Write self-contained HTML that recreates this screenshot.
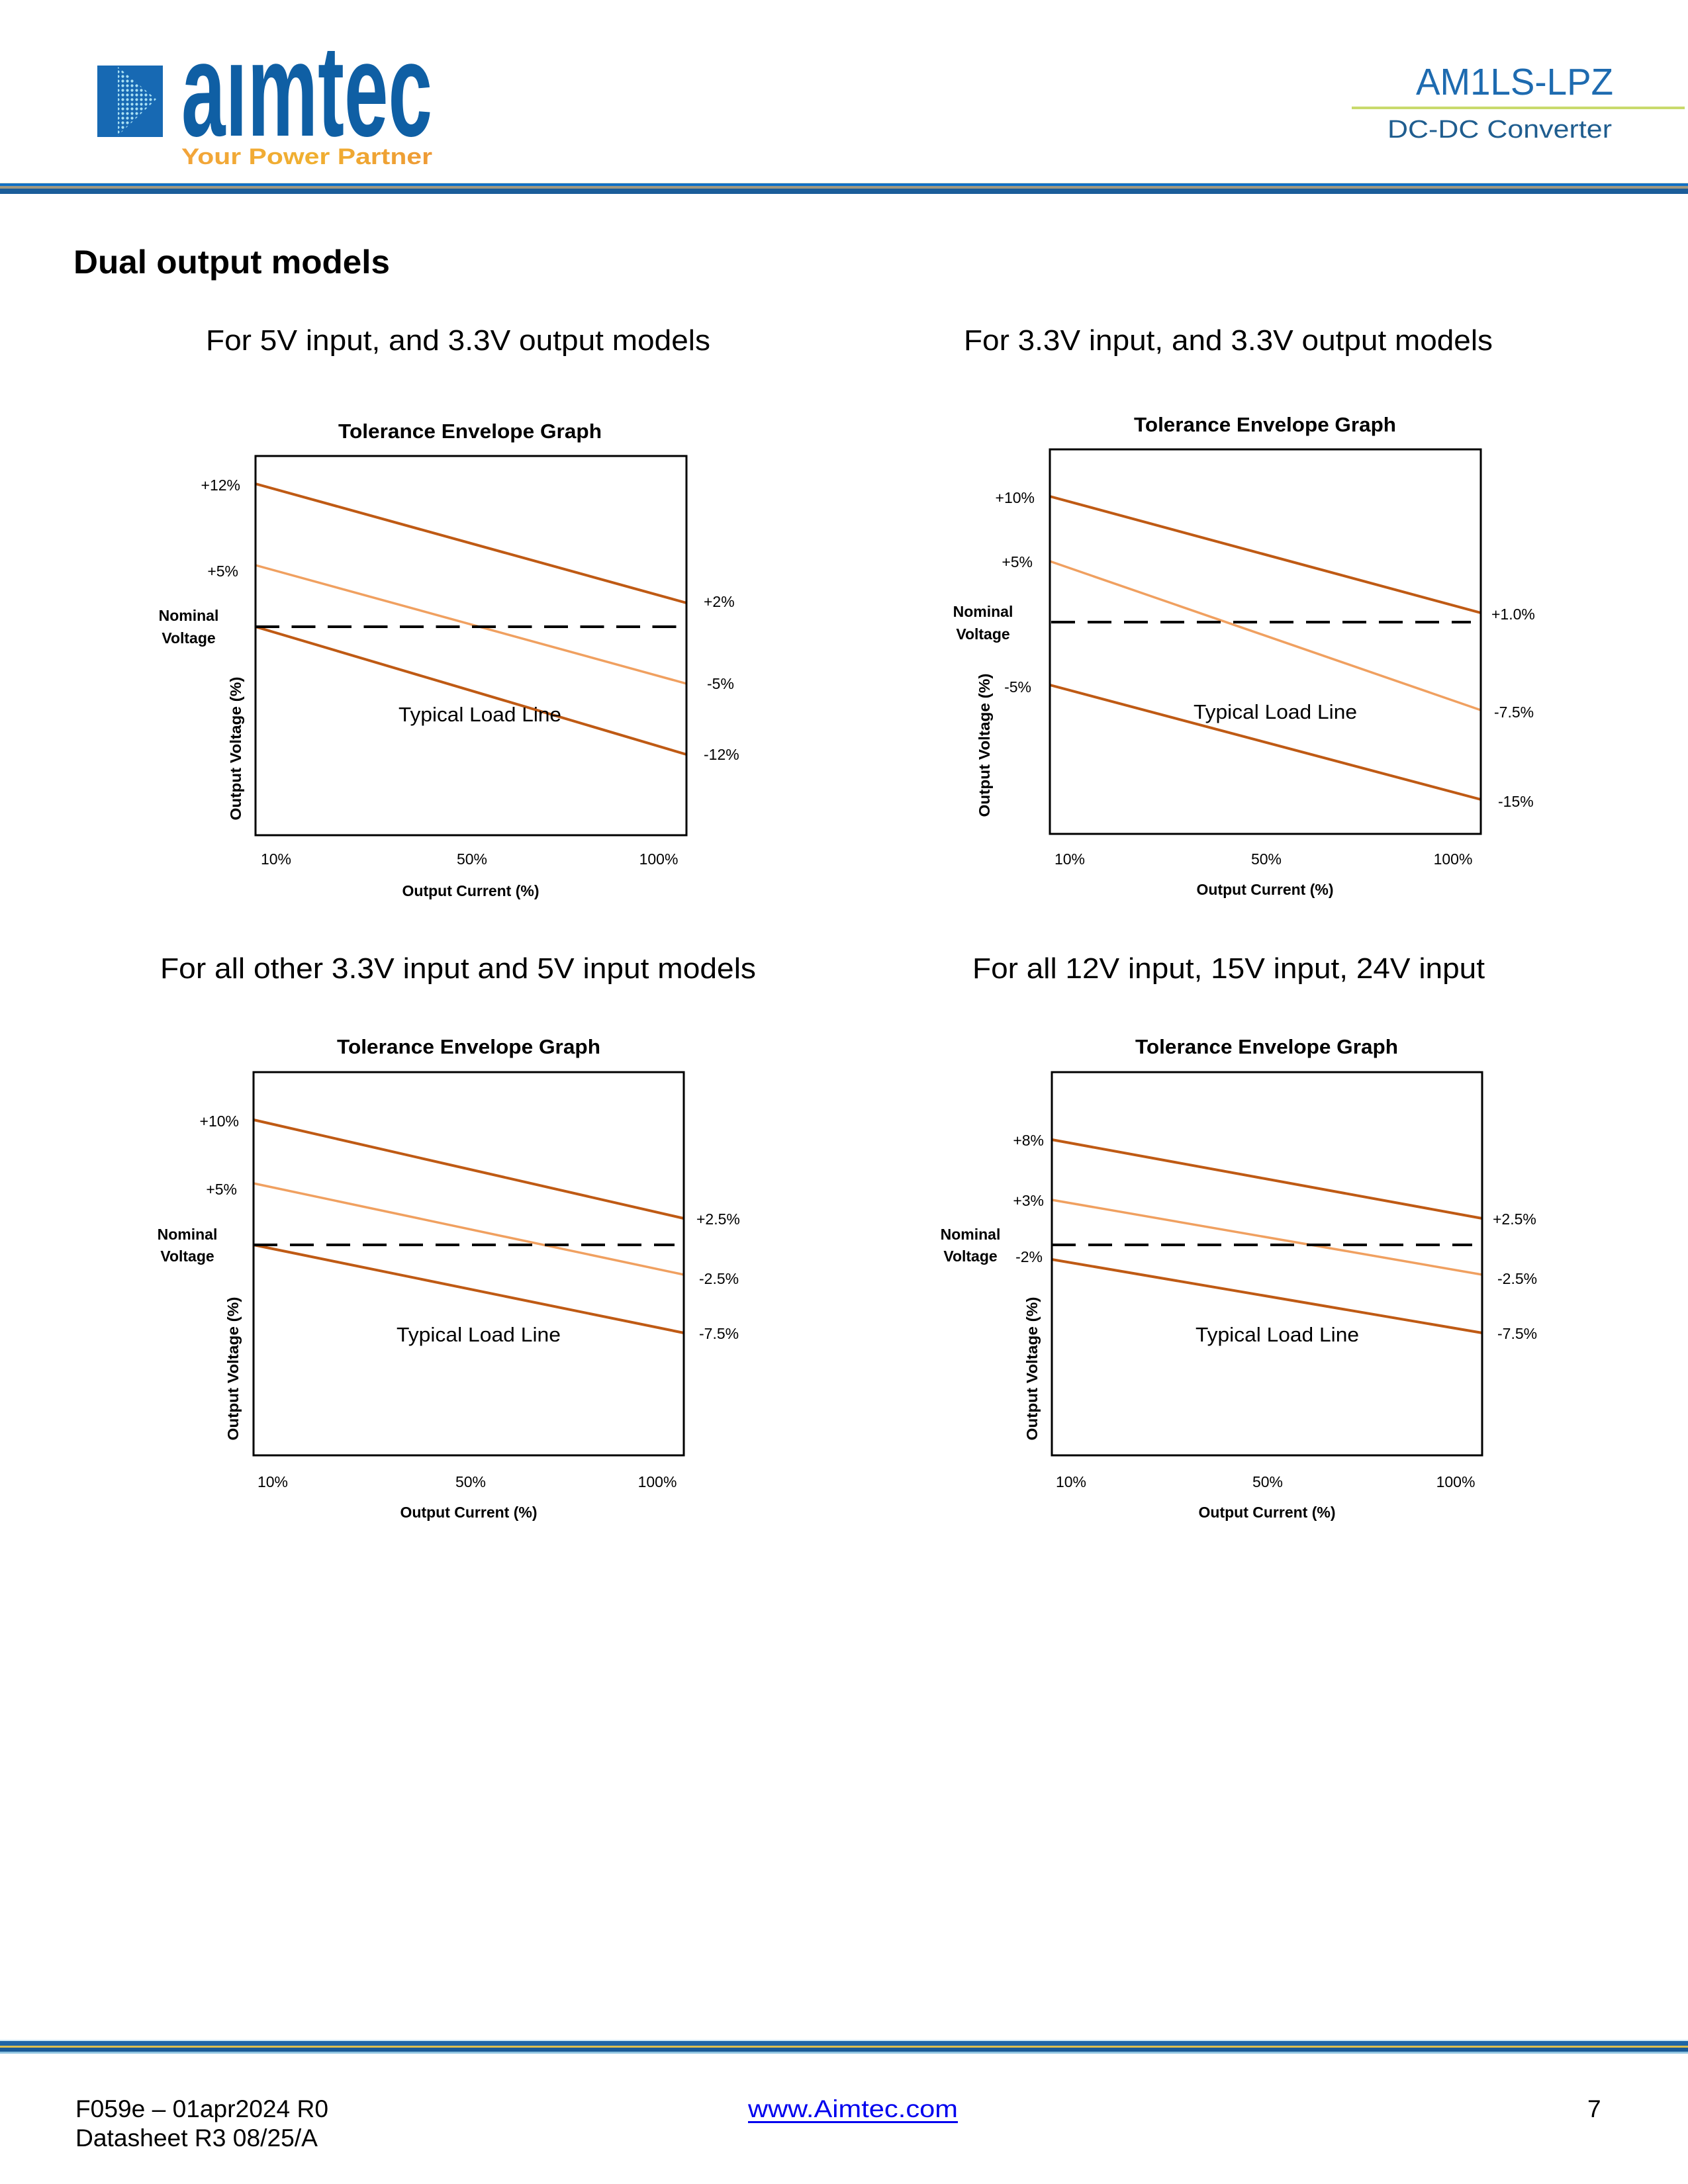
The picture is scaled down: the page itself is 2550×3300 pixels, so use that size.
<!DOCTYPE html>
<html>
<head>
<meta charset="utf-8">
<style>
  html, body { margin:0; padding:0; background:#ffffff; }
  body { width:2550px; height:3300px; overflow:hidden; }
  svg { display:block; }
  text { font-family: "Liberation Sans", "DejaVu Sans", sans-serif; }
</style>
</head>
<body>
<svg width="2550" height="3300" viewBox="0 0 2550 3300" xmlns="http://www.w3.org/2000/svg">
  <defs>
    <pattern id="dots" x="0" y="0" width="7" height="7" patternUnits="userSpaceOnUse">
      <circle cx="3.5" cy="3.5" r="2.1" fill="#a8e0f4"/>
    </pattern>
    <linearGradient id="orangeGrad" x1="0" y1="0" x2="1" y2="0">
      <stop offset="0" stop-color="#f2a43a"/>
      <stop offset="0.5" stop-color="#f0b030"/>
      <stop offset="1" stop-color="#ee9a36"/>
    </linearGradient>
    <clipPath id="logoClip">
      <rect x="260" y="77" width="420" height="140"/>
    </clipPath>
  </defs>

  <rect x="0" y="0" width="2550" height="3300" fill="#ffffff"/>

  <!-- ===== Header ===== -->
  <rect x="147" y="99" width="99" height="108" fill="#1769b3"/>
  <polygon points="178,101 236,150 178,205" fill="url(#dots)"/>
  <g clip-path="url(#logoClip)">
    <text x="274" y="205" font-size="202" font-weight="bold" fill="#0f5fa4" textLength="379" lengthAdjust="spacingAndGlyphs">aimtec</text>
  </g>
  <rect x="338" y="70" width="38" height="28" fill="#ffffff"/>
  <text x="274" y="248" font-size="34" font-weight="bold" fill="url(#orangeGrad)" textLength="379" lengthAdjust="spacingAndGlyphs">Your Power Partner</text>

  <text x="2139" y="143" font-size="57" fill="#1e6bb0" textLength="298" lengthAdjust="spacingAndGlyphs">AM1LS-LPZ</text>
  <rect x="2042" y="161" width="503" height="4" fill="#c9da6c"/>
  <text x="2096" y="208" font-size="38" fill="#1f5d8f" textLength="339" lengthAdjust="spacingAndGlyphs">DC-DC Converter</text>

  <!-- header stripes -->
  <rect x="0" y="276" width="2550" height="1" fill="#f3ead8"/>
  <rect x="0" y="277" width="2550" height="4" fill="#1170c4"/>
  <rect x="0" y="281" width="2550" height="4" fill="#a09880"/>
  <rect x="0" y="285" width="2550" height="8" fill="#1b5d9a"/>

  <!-- Section heading -->
  <text x="111" y="413" font-size="50" font-weight="bold" fill="#000" textLength="478" lengthAdjust="spacingAndGlyphs">Dual output models</text>

  <!-- Subtitles -->
  <text x="311" y="529" font-size="44" fill="#000" textLength="762" lengthAdjust="spacingAndGlyphs">For 5V input, and 3.3V output models</text>
  <text x="1456" y="529" font-size="44" fill="#000" textLength="799" lengthAdjust="spacingAndGlyphs">For 3.3V input, and 3.3V output models</text>
  <text x="242" y="1478" font-size="44" fill="#000" textLength="900" lengthAdjust="spacingAndGlyphs">For all other 3.3V input and 5V input models</text>
  <text x="1469" y="1478" font-size="44" fill="#000" textLength="774" lengthAdjust="spacingAndGlyphs">For all 12V input, 15V input, 24V input</text>

  <!-- ===== Chart 1 ===== -->
  <g>
    <text x="511" y="662" font-size="31" font-weight="bold" fill="#000" textLength="398" lengthAdjust="spacingAndGlyphs">Tolerance Envelope Graph</text>
    <line x1="386" y1="731" x2="1037" y2="911" stroke="#bf5a14" stroke-width="4"/>
    <line x1="386" y1="854" x2="1037" y2="1033" stroke="#f0a060" stroke-width="3.5"/>
    <line x1="386" y1="947" x2="1037" y2="1140" stroke="#bf5a14" stroke-width="4"/>
    <line x1="386" y1="947" x2="1022" y2="947" stroke="#000" stroke-width="4" stroke-dasharray="36 18.5"/>
    <rect x="386" y="689" width="651" height="573" fill="none" stroke="#000" stroke-width="3"/>
    <text x="363" y="741" font-size="23" text-anchor="end">+12%</text>
    <text x="360" y="871" font-size="23" text-anchor="end">+5%</text>
    <text x="1063" y="917" font-size="23">+2%</text>
    <text x="1068" y="1041" font-size="23">-5%</text>
    <text x="1063" y="1148" font-size="23">-12%</text>
    <text x="285" y="938" font-size="23" font-weight="bold" text-anchor="middle">Nominal</text>
    <text x="285" y="972" font-size="23" font-weight="bold" text-anchor="middle">Voltage</text>
    <text x="602" y="1090" font-size="31" textLength="246" lengthAdjust="spacingAndGlyphs">Typical Load Line</text>
    <text transform="translate(364,1131) rotate(-90)" font-size="23" font-weight="bold" text-anchor="middle" textLength="217" lengthAdjust="spacingAndGlyphs">Output Voltage (%)</text>
    <text x="417" y="1306" font-size="23" text-anchor="middle">10%</text>
    <text x="713" y="1306" font-size="23" text-anchor="middle">50%</text>
    <text x="995" y="1306" font-size="23" text-anchor="middle">100%</text>
    <text x="711" y="1354" font-size="23" font-weight="bold" text-anchor="middle">Output Current (%)</text>
  </g>

  <!-- ===== Chart 2 ===== -->
  <g>
    <text x="1713" y="652" font-size="31" font-weight="bold" fill="#000" textLength="396" lengthAdjust="spacingAndGlyphs">Tolerance Envelope Graph</text>
    <line x1="1586" y1="750" x2="2237" y2="926" stroke="#bf5a14" stroke-width="4"/>
    <line x1="1586" y1="848" x2="2237" y2="1073" stroke="#f0a060" stroke-width="3.5"/>
    <line x1="1586" y1="1035" x2="2237" y2="1208" stroke="#bf5a14" stroke-width="4"/>
    <line x1="1588" y1="940" x2="2222" y2="940" stroke="#000" stroke-width="4" stroke-dasharray="36 19"/>
    <rect x="1586" y="679" width="651" height="581" fill="none" stroke="#000" stroke-width="3"/>
    <text x="1563" y="760" font-size="23" text-anchor="end">+10%</text>
    <text x="1560" y="857" font-size="23" text-anchor="end">+5%</text>
    <text x="1558" y="1046" font-size="23" text-anchor="end">-5%</text>
    <text x="2253" y="936" font-size="23">+1.0%</text>
    <text x="2257" y="1084" font-size="23">-7.5%</text>
    <text x="2263" y="1219" font-size="23">-15%</text>
    <text x="1485" y="932" font-size="23" font-weight="bold" text-anchor="middle">Nominal</text>
    <text x="1485" y="966" font-size="23" font-weight="bold" text-anchor="middle">Voltage</text>
    <text x="1803" y="1086" font-size="31" textLength="247" lengthAdjust="spacingAndGlyphs">Typical Load Line</text>
    <text transform="translate(1495,1126) rotate(-90)" font-size="23" font-weight="bold" text-anchor="middle" textLength="217" lengthAdjust="spacingAndGlyphs">Output Voltage (%)</text>
    <text x="1616" y="1306" font-size="23" text-anchor="middle">10%</text>
    <text x="1913" y="1306" font-size="23" text-anchor="middle">50%</text>
    <text x="2195" y="1306" font-size="23" text-anchor="middle">100%</text>
    <text x="1911" y="1352" font-size="23" font-weight="bold" text-anchor="middle">Output Current (%)</text>
  </g>

  <!-- ===== Chart 3 ===== -->
  <g>
    <text x="509" y="1592" font-size="31" font-weight="bold" fill="#000" textLength="398" lengthAdjust="spacingAndGlyphs">Tolerance Envelope Graph</text>
    <line x1="383" y1="1692" x2="1033" y2="1841" stroke="#bf5a14" stroke-width="4"/>
    <line x1="383" y1="1788" x2="1033" y2="1926" stroke="#f0a060" stroke-width="3.5"/>
    <line x1="383" y1="1881" x2="1033" y2="2014" stroke="#bf5a14" stroke-width="4"/>
    <line x1="383" y1="1881" x2="1019" y2="1881" stroke="#000" stroke-width="4" stroke-dasharray="36 19"/>
    <rect x="383" y="1620" width="650" height="579" fill="none" stroke="#000" stroke-width="3"/>
    <text x="361" y="1702" font-size="23" text-anchor="end">+10%</text>
    <text x="358" y="1805" font-size="23" text-anchor="end">+5%</text>
    <text x="1052" y="1850" font-size="23">+2.5%</text>
    <text x="1056" y="1940" font-size="23">-2.5%</text>
    <text x="1056" y="2023" font-size="23">-7.5%</text>
    <text x="283" y="1873" font-size="23" font-weight="bold" text-anchor="middle">Nominal</text>
    <text x="283" y="1906" font-size="23" font-weight="bold" text-anchor="middle">Voltage</text>
    <text x="599" y="2027" font-size="31" textLength="248" lengthAdjust="spacingAndGlyphs">Typical Load Line</text>
    <text transform="translate(360,2068) rotate(-90)" font-size="23" font-weight="bold" text-anchor="middle" textLength="217" lengthAdjust="spacingAndGlyphs">Output Voltage (%)</text>
    <text x="412" y="2247" font-size="23" text-anchor="middle">10%</text>
    <text x="711" y="2247" font-size="23" text-anchor="middle">50%</text>
    <text x="993" y="2247" font-size="23" text-anchor="middle">100%</text>
    <text x="708" y="2293" font-size="23" font-weight="bold" text-anchor="middle">Output Current (%)</text>
  </g>

  <!-- ===== Chart 4 ===== -->
  <g>
    <text x="1715" y="1592" font-size="31" font-weight="bold" fill="#000" textLength="397" lengthAdjust="spacingAndGlyphs">Tolerance Envelope Graph</text>
    <line x1="1589" y1="1722" x2="2239" y2="1841" stroke="#bf5a14" stroke-width="4"/>
    <line x1="1589" y1="1813" x2="2239" y2="1926" stroke="#f0a060" stroke-width="3.5"/>
    <line x1="1589" y1="1903" x2="2239" y2="2014" stroke="#bf5a14" stroke-width="4"/>
    <line x1="1589" y1="1881" x2="2224" y2="1881" stroke="#000" stroke-width="4" stroke-dasharray="36 19"/>
    <rect x="1589" y="1620" width="650" height="579" fill="none" stroke="#000" stroke-width="3"/>
    <text x="1577" y="1731" font-size="23" text-anchor="end">+8%</text>
    <text x="1577" y="1822" font-size="23" text-anchor="end">+3%</text>
    <text x="1575" y="1907" font-size="23" text-anchor="end">-2%</text>
    <text x="2255" y="1850" font-size="23">+2.5%</text>
    <text x="2262" y="1940" font-size="23">-2.5%</text>
    <text x="2262" y="2023" font-size="23">-7.5%</text>
    <text x="1466" y="1873" font-size="23" font-weight="bold" text-anchor="middle">Nominal</text>
    <text x="1466" y="1906" font-size="23" font-weight="bold" text-anchor="middle">Voltage</text>
    <text x="1806" y="2027" font-size="31" textLength="247" lengthAdjust="spacingAndGlyphs">Typical Load Line</text>
    <text transform="translate(1567,2068) rotate(-90)" font-size="23" font-weight="bold" text-anchor="middle" textLength="217" lengthAdjust="spacingAndGlyphs">Output Voltage (%)</text>
    <text x="1618" y="2247" font-size="23" text-anchor="middle">10%</text>
    <text x="1915" y="2247" font-size="23" text-anchor="middle">50%</text>
    <text x="2199" y="2247" font-size="23" text-anchor="middle">100%</text>
    <text x="1914" y="2293" font-size="23" font-weight="bold" text-anchor="middle">Output Current (%)</text>
  </g>

  <!-- ===== Footer ===== -->
  <rect x="0" y="3082" width="2550" height="2" fill="#cfeaf6"/>
  <rect x="0" y="3084" width="2550" height="7" fill="#1e66a6"/>
  <rect x="0" y="3091" width="2550" height="3" fill="#dcc050"/>
  <rect x="0" y="3094" width="2550" height="6" fill="#195a96"/>
  <rect x="0" y="3100" width="2550" height="3" fill="#8fc4e0"/>

  <text x="114" y="3199" font-size="37" fill="#000" textLength="382" lengthAdjust="spacingAndGlyphs">F059e – 01apr2024 R0</text>
  <text x="114" y="3243" font-size="37" fill="#000" textLength="366" lengthAdjust="spacingAndGlyphs">Datasheet R3 08/25/A</text>
  <text x="1130" y="3199" font-size="37" fill="#0000ee" textLength="317" lengthAdjust="spacingAndGlyphs">www.Aimtec.com</text>
  <rect x="1130" y="3205" width="317" height="3" fill="#0000ee"/>
  <text x="2398" y="3199" font-size="37" fill="#000">7</text>
</svg>
</body>
</html>
